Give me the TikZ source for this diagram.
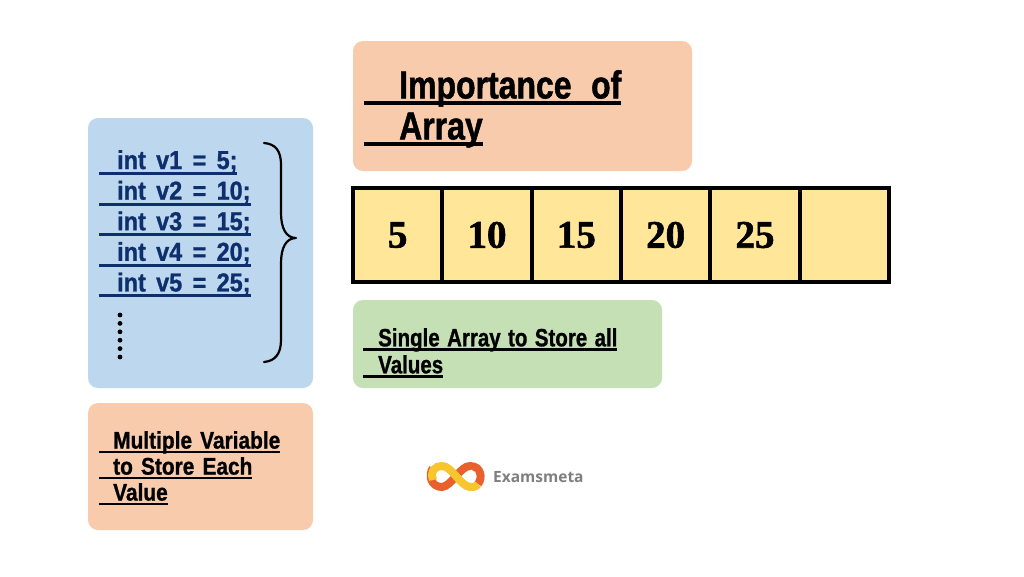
\documentclass[tikz,border=0pt]{standalone}
\usepackage{fontspec}
\setmainfont{Liberation Sans}
\newfontfamily\titlef[FakeStretch=.82,FakeBold=1.2,WordSpace=2.2]{Liberation Sans}
\newfontfamily\greenf[FakeStretch=.82,FakeBold=1,WordSpace=1.3]{Liberation Sans}
\newfontfamily\peachf[FakeStretch=.87,FakeBold=1,WordSpace=1.4]{Liberation Sans}
\newfontfamily\bluef[FakeStretch=.90,FakeBold=1,WordSpace=1.6]{Liberation Sans}
\newfontfamily\numf[FakeBold=1.5]{Liberation Serif}
\newfontfamily\logof{Open Sans}
\definecolor{boxblue}{HTML}{BDD7EE}
\definecolor{boxpeach}{HTML}{F8CBAD}
\definecolor{boxgreen}{HTML}{C5E0B4}
\definecolor{cellyellow}{HTML}{FFE699}
\definecolor{codeblue}{HTML}{0E2F6E}
\definecolor{logoorange}{HTML}{E8602C}
\definecolor{logoyellow}{HTML}{F7C52E}
\definecolor{logogray}{HTML}{7F7F7F}
% #1 thickness, #2 depth, #3 indent, #4 text: underlined from the left edge, as the picture prints it
\newcommand\ultext[4]{\leavevmode\setbox0\hbox{#4}\rlap{\rule[-#2]{\dimexpr#3+\wd0\relax}{#1}}\hspace*{#3}\box0}
\tikzset{
  panel/.style={rounded corners=10pt,minimum height=0pt,inner sep=0pt,draw=none},
  label/.style={anchor=north west,inner sep=0pt,align=left},
  cell/.style={draw=black,line width=4pt,fill=cellyellow,minimum width=89.33pt,minimum height=94pt,inner sep=0pt,
    font=\numf\bfseries\fontsize{39}{39}\selectfont},
}
\begin{document}
\begin{tikzpicture}[x=1pt,y=-1pt]
\useasboundingbox (0,0) rectangle (1024,576);
\fill[white] (0,0) rectangle (1024,576);
% panels
\fill[boxblue,panel] (88,118) rectangle (313,388);
\fill[boxpeach,panel] (353,41) rectangle (692,171);
\fill[boxgreen,panel] (353,300) rectangle (662,388);
\fill[boxpeach,panel] (88,403) rectangle (313,530);
% array
\foreach \n/\t [count=\i from 0] in {a/5,b/10,c/15,d/20,e/25,f/{}} {
  \node[cell] (cell\n) at ({353+44.665+89.33*\i},235) {\t};
}
% title
\node[label,font=\titlef\bfseries\fontsize{39}{41}\selectfont] (title) at (364,70) {%
  \ultext{4pt}{6.5pt}{35pt}{Importance of}\\
  \ultext{4pt}{6.5pt}{35pt}{Array}};
% code
\node[label,font=\bluef\bfseries\fontsize{26}{30.6}\selectfont,text=codeblue] (code) at (99,150) {%
  \ultext{3pt}{6pt}{18pt}{int v1 = 5;}\\
  \ultext{3pt}{6pt}{18pt}{int v2 = 10;}\\
  \ultext{3pt}{6pt}{18pt}{int v3 = 15;}\\
  \ultext{3pt}{6pt}{18pt}{int v4 = 20;}\\
  \ultext{3pt}{6pt}{18pt}{int v5 = 25;}};
% dots
\foreach \k in {0,...,5} \fill[black] (120,{315+8.4*\k}) circle (2.4);
% brace
\draw[black,line width=2.2pt,line cap=round,line join=round] (264,143) .. controls (275,144) and (281,150) .. (281,165)
  -- (281,213) .. controls (281,228) and (286,238) .. (296,238)
  .. controls (286,238) and (281,248) .. (281,263) -- (281,340)
  .. controls (281,354) and (275,361) .. (264,362);
% green
\node[label,font=\greenf\bfseries\fontsize{25}{27}\selectfont] (single) at (363,328) {%
  \ultext{2.5pt}{4.5pt}{15pt}{Single Array to Store all}\\
  \ultext{2.5pt}{4.5pt}{15pt}{Values}};
% peach
\node[label,font=\peachf\bfseries\fontsize{24}{26}\selectfont] (multi) at (99,431) {%
  \ultext{2.5pt}{4.5pt}{14pt}{Multiple Variable}\\
  \ultext{2.5pt}{4.5pt}{14pt}{to Store Each}\\
  \ultext{2.5pt}{4.5pt}{14pt}{Value}};
% logo
\begin{scope}[line width=8pt]
  \draw[logoorange] (433,468) .. controls (428,475) and (431,487) .. (442,487)
    .. controls (452,486) and (460,466) .. (470,466)
    .. controls (481,466) and (483,478) .. (478,484);
  \draw[logoyellow] (433,480) .. controls (430,471) and (435,466) .. (442,466)
    .. controls (452,466) and (460,486) .. (470,487)
    .. controls (474,487) and (476,487) .. (478,484);
\end{scope}
\draw[white,line width=1.2pt,line cap=round] (437,481) -- (444,474) (441,482) -- (447,476)
  (465,476) -- (472,470) (468,478) -- (475,472);
\node[anchor=west,inner sep=0pt,text=logogray,font=\logof\bfseries\fontsize{15.5}{16}\selectfont] (brand) at (493,477) {Examsmeta};
\end{tikzpicture}
\end{document}
